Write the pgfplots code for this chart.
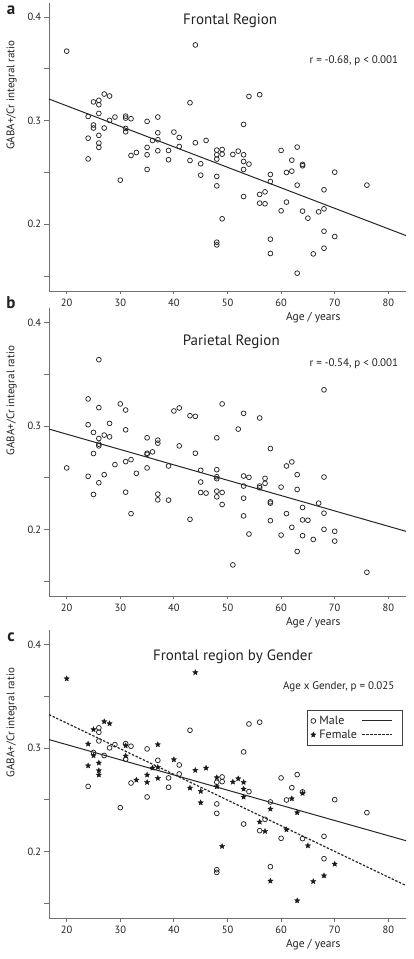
\documentclass[border=0pt]{standalone}
\usepackage{fontspec}
\setmainfont{PT Sans}
\usepackage{pgfplots}
\pgfplotsset{compat=1.18}
\usepackage{pgfplotstable}

\pgfdeclareplotmark{fstar}{%
  \pgfpathmoveto{\pgfqpointpolar{90}{\pgfplotmarksize}}%
  \pgfpathlineto{\pgfqpointpolar{126}{0.45\pgfplotmarksize}}%
  \pgfpathlineto{\pgfqpointpolar{162}{\pgfplotmarksize}}%
  \pgfpathlineto{\pgfqpointpolar{198}{0.45\pgfplotmarksize}}%
  \pgfpathlineto{\pgfqpointpolar{234}{\pgfplotmarksize}}%
  \pgfpathlineto{\pgfqpointpolar{270}{0.45\pgfplotmarksize}}%
  \pgfpathlineto{\pgfqpointpolar{306}{\pgfplotmarksize}}%
  \pgfpathlineto{\pgfqpointpolar{342}{0.45\pgfplotmarksize}}%
  \pgfpathlineto{\pgfqpointpolar{18}{\pgfplotmarksize}}%
  \pgfpathlineto{\pgfqpointpolar{54}{0.45\pgfplotmarksize}}%
  \pgfpathclose
  \pgfusepathqfillstroke
}

% Frontal region, male
\pgfplotstableread{
x y
24 0.263
26 0.3195
26 0.3153
25 0.2957
26 0.3069
27 0.2928
28 0.3002
29 0.3034
30 0.2425
31 0.3043
31 0.2892
32 0.3018
32 0.2663
35 0.2992
35 0.2528
37 0.2882
39 0.2712
39 0.2622
41 0.2837
41 0.2750
43 0.3172
48 0.2670
48 0.2461
48 0.2370
48 0.1826
48 0.1800
49 0.2721
49 0.2676
53 0.2963
53 0.2267
54 0.3233
54 0.2580
56 0.3250
56 0.2203
57 0.2312
58 0.2480
58 0.1855
60 0.2712
60 0.2129
61 0.2499
62 0.2618
63 0.2744
64 0.2577
64 0.2126
68 0.2148
68 0.1932
70 0.2502
76 0.2377
}\frontmale

% Frontal region, female
\pgfplotstableread{
x y
20 0.367
44 0.373
24 0.304
24 0.283
25 0.318
25 0.2928
26 0.2857
26 0.2783
26 0.2741
27 0.3256
28 0.3237
31 0.3024
31 0.2924
33 0.2692
35 0.2741
35 0.2670
36 0.2808
37 0.3034
37 0.2815
37 0.2709
40 0.2889
43 0.2615
44 0.2786
45 0.2583
45 0.2473
46 0.2808
48 0.2715
48 0.2628
49 0.2052
51 0.2673
52 0.2705
53 0.2670
53 0.2605
53 0.2528
56 0.2287
57 0.2197
58 0.2412
58 0.1717
61 0.2213
62 0.2512
63 0.2377
63 0.1527
64 0.2564
65 0.2058
66 0.1713
68 0.1768
70 0.1881
}\frontfemale

% Frontal region, points shown in panel a only
\pgfplotstableread{
x y
67 0.2119
68 0.2332
}\frontextra

% Parietal region
\pgfplotstableread{
x y
20 0.2596
26 0.3641
24 0.3262
24 0.3013
24 0.2515
25 0.2939
25 0.2735
25 0.2340
26 0.3178
26 0.2880
26 0.2825
26 0.2809
26 0.2453
27 0.2913
27 0.2531
28 0.3026
28 0.2896
29 0.2628
30 0.3214
31 0.3155
31 0.2964
31 0.2657
31 0.2362
32 0.2676
32 0.2155
33 0.2544
35 0.2887
35 0.2738
35 0.2728
35 0.2596
36 0.2751
37 0.2864
37 0.2835
37 0.2343
37 0.2288
39 0.2615
39 0.2285
40 0.3146
41 0.3175
41 0.2809
43 0.3100
43 0.2100
44 0.3094
44 0.2738
45 0.2573
45 0.2460
45 0.2359
46 0.2353
48 0.2887
48 0.2579
48 0.2511
48 0.2492
48 0.2372
48 0.2317
49 0.3214
49 0.2359
49 0.2243
51 0.1660
52 0.2971
53 0.3123
53 0.2518
53 0.2421
53 0.2304
53 0.2133
54 0.2505
54 0.1958
56 0.3078
56 0.2421
56 0.2405
57 0.2495
57 0.2447
58 0.2783
58 0.2269
58 0.2256
58 0.2087
60 0.2411
60 0.1948
61 0.2615
61 0.2155
62 0.2654
62 0.2023
63 0.2531
63 0.2388
63 0.1790
64 0.2214
64 0.2094
64 0.1942
65 0.2091
66 0.1906
67 0.2256
68 0.3350
68 0.2508
68 0.2159
68 0.2003
70 0.1984
70 0.1890
76 0.1589
}\parietal

\definecolor{axgray}{HTML}{707070}
\definecolor{ink}{HTML}{222222}

\tikzset{
  ptitle/.style={font=\fontsize{15}{17}\selectfont, text=ink},
  pstat/.style={font=\fontsize{11}{13}\selectfont, text=ink, anchor=east},
  pletter/.style={font=\bfseries\fontsize{17}{17}\selectfont, text=ink},
}

\pgfplotsset{
  panel/.style={
    scale only axis, width=357pt, height=288pt,
    xmin=16.7, xmax=83.3, ymin=0.1355, ymax=0.4135,
    axis x line=bottom, axis y line=left,
    axis line style={-, draw=axgray, line width=0.8pt},
    every outer x axis line/.append style={-},
    every outer y axis line/.append style={-},
    xtick={20,30,40,50,60,70,80}, xticklabels={20,30,40,50,60,70,80},
    ytick={0.15,0.2,0.25,0.3,0.35,0.4}, yticklabels={,0.2,,0.3,,0.4},
    tick style={draw=axgray, line width=0.8pt},
    tick align=outside,
    xtick style={/pgfplots/major tick length=3pt},
    ytick style={/pgfplots/major tick length=5pt},
    ticklabel style={font=\fontsize{10.5}{12}\selectfont, text=ink},
    xlabel={Age / years}, ylabel={GABA+/Cr integral ratio},
    xlabel style={at={(axis description cs:0.74,0)}, anchor=center, yshift=-26.5pt,
      font=\fontsize{11.5}{13}\selectfont, text=ink},
    ylabel style={at={(axis description cs:-0.1045,0.68)}, anchor=center,
      font=\fontsize{11}{13}\selectfont, text=ink},
  },
  circ/.style={only marks, mark=o, mark size=2.4pt,
    mark options={draw=black!85, line width=0.75pt}},
  starm/.style={only marks, mark=fstar, mark size=2.8pt,
    mark options={draw=black!90, fill=black!90, line width=0.3pt}},
  regline/.style={no marks, draw=black!85, line width=1pt},
  longleg/.style={legend image code/.code={\draw[##1] (0pt,0pt) -- (30pt,0pt);}},
}

\begin{document}
\begin{tikzpicture}
\useasboundingbox (0,0) rectangle (413pt,959pt);

% ---------- panel a ----------
\begin{axis}[panel, at={(49pt,668pt)}, anchor=south west]
  \addplot[circ] table[x=x,y=y] {\frontmale};
  \addplot[circ] table[x=x,y=y] {\frontfemale};
  \addplot[circ] table[x=x,y=y] {\frontextra};
  \addplot[regline] coordinates {(16.7,0.3208) (83.3,0.1890)};
  \node[ptitle] at (axis cs:50.5,0.3967) {Frontal Region};
  \node[pstat] at (axis cs:82.5,0.3578) {r = -0.68, p < 0.001};
\end{axis}

% ---------- panel b ----------
\begin{axis}[panel, at={(49pt,362.5pt)}, anchor=south west]
  \addplot[circ] table[x=x,y=y] {\parietal};
  \addplot[regline] coordinates {(16.7,0.2971) (83.3,0.1984)};
  \node[ptitle] at (axis cs:50.7,0.3818) {Parietal Region};
  \node[pstat] at (axis cs:82.5,0.3605) {r = -0.54, p < 0.001};
\end{axis}

% ---------- panel c ----------
\begin{axis}[panel, at={(49pt,40.5pt)}, anchor=south west,
    legend columns=2,
    legend style={at={(0.9924,0.724)}, anchor=north east,
      draw=black!75, line width=1pt, fill=white,
      font=\fontsize{12}{13}\selectfont, text=ink,
      inner xsep=3pt, inner ysep=3.5pt,
      nodes={inner xsep=3.5pt},
      /tikz/every even column/.append style={column sep=1pt}},
    legend cell align=left]
  \addplot[circ] table[x=x,y=y] {\frontmale};
  \addlegendentry{Male}
  \addplot[regline, longleg]
    coordinates {(16.7,0.3082) (83.3,0.2106)};
  \addlegendentry{}
  \addplot[starm] table[x=x,y=y] {\frontfemale};
  \addlegendentry{Female}
  \addplot[regline, line width=1.2pt, dash pattern=on 2.4pt off 1.6pt, longleg]
    coordinates {(16.7,0.3323) (83.3,0.1673)};
  \addlegendentry{}
  \node[ptitle] at (axis cs:51,0.3884) {Frontal region by Gender};
  \node[pstat] at (axis cs:81.8,0.3589) {Age x Gender, p = 0.025};
\end{axis}

% panel letters
\node[pletter] at (11pt,949pt) {a};
\node[pletter] at (11pt,656pt) {b};
\node[pletter] at (11pt,322pt) {c};
\end{tikzpicture}
\end{document}
